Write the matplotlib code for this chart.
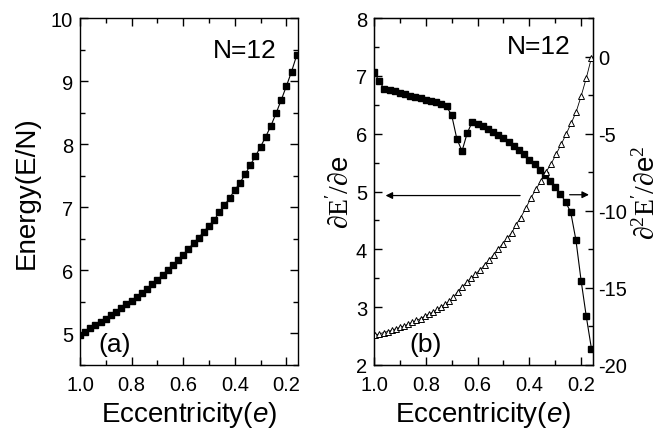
import matplotlib
matplotlib.use('Agg')
import matplotlib.pyplot as plt
from matplotlib.ticker import MultipleLocator

plt.rcParams['font.family'] = ['Liberation Sans', 'DejaVu Sans']
plt.rcParams['mathtext.fontset'] = 'custom'
plt.rcParams['mathtext.rm'] = 'Liberation Serif'
plt.rcParams['mathtext.it'] = 'Liberation Sans:italic'
plt.rcParams['mathtext.sf'] = 'Liberation Sans'
plt.rcParams['axes.unicode_minus'] = False

# eccentricity grid for energy and first derivative
ecc = [1.00, 0.98, 0.96, 0.94, 0.92, 0.90, 0.88, 0.86, 0.84, 0.82, 0.80,
       0.78, 0.76, 0.74, 0.72, 0.70, 0.68, 0.66, 0.64, 0.62, 0.60, 0.58,
       0.56, 0.54, 0.52, 0.50, 0.48, 0.46, 0.44, 0.42, 0.40, 0.38, 0.36,
       0.34, 0.32, 0.30, 0.28, 0.26, 0.24, 0.22, 0.20, 0.18, 0.16]

energy = [4.97, 5.02, 5.08, 5.13, 5.18, 5.23, 5.29, 5.34, 5.40, 5.46, 5.52,
          5.58, 5.64, 5.71, 5.78, 5.85, 5.93, 6.01, 6.09, 6.17, 6.25, 6.34,
          6.43, 6.52, 6.61, 6.71, 6.80, 6.92, 7.03, 7.15, 7.27, 7.39, 7.52,
          7.67, 7.81, 7.96, 8.12, 8.29, 8.49, 8.70, 8.92, 9.15, 9.41]

dE = [7.06, 6.91, 6.77, 6.75, 6.73, 6.70, 6.685, 6.66, 6.64, 6.62, 6.59,
      6.565, 6.54, 6.51, 6.47, 6.32, 5.91, 5.70, 6.01, 6.21, 6.17, 6.13,
      6.08, 6.03, 5.98, 5.92, 5.85, 5.78, 5.71, 5.64, 5.55, 5.47, 5.38,
      5.29, 5.18, 5.07, 4.96, 4.82, 4.64, 4.16, 3.46, 2.84, 2.28]

# second derivative (open triangles)
ecc2 = [0.995, 0.979, 0.963, 0.947, 0.931, 0.915, 0.899, 0.883, 0.868, 0.852,
        0.836, 0.820, 0.804, 0.788, 0.772, 0.756, 0.740, 0.725, 0.709, 0.693,
        0.677, 0.660, 0.642, 0.625, 0.608, 0.590, 0.573, 0.555, 0.538, 0.521,
        0.503, 0.486, 0.468, 0.451, 0.434, 0.414, 0.394, 0.375, 0.355, 0.336,
        0.316, 0.297, 0.277, 0.258, 0.238, 0.219, 0.200, 0.180, 0.160]

d2E = [-18.06, -17.98, -17.90, -17.83, -17.75, -17.65, -17.56, -17.46, -17.35,
       -17.23, -17.11, -16.99, -16.84, -16.70, -16.56, -16.40, -16.23, -16.05,
       -15.87, -15.60, -15.25, -14.93, -14.64, -14.36, -14.10, -13.83, -13.51,
       -13.19, -12.85, -12.50, -12.14, -11.79, -11.43, -10.90, -10.45, -9.85,
       -9.17, -8.62, -8.06, -7.49, -6.96, -6.34, -5.69, -5.03, -4.31, -3.58,
       -2.57, -1.40, -0.07]

xt = [1.0, 0.8, 0.6, 0.4, 0.2]
xtl = ['1.0', '0.8', '0.6', '0.4', '0.2']

fig = plt.figure(figsize=(6.6, 4.39), dpi=100)
ax1 = fig.add_axes([0.1212, 0.1663, 0.3303, 0.7904])
ax2 = fig.add_axes([0.5667, 0.1663, 0.3318, 0.7904])
ax3 = ax2.twinx()

def style(ax, right=True):
    ax.tick_params(which='both', direction='in', top=True, right=right,
                   labelsize=14.5, width=1.0)
    ax.tick_params(which='major', length=6, pad=5)
    ax.tick_params(which='minor', length=3.5)
    ax.tick_params(axis='x', pad=7)
    for s in ax.spines.values():
        s.set_linewidth(1.0)

# (a) energy
ax1.plot(ecc, energy, '-', color='black', lw=0.8, marker='s', ms=3.8)
ax1.set_xlim(1.0, 0.155)
ax1.set_ylim(4.5, 10)
ax1.set_xticks(xt)
ax1.set_xticklabels(xtl)
ax1.xaxis.set_minor_locator(MultipleLocator(0.1))
ax1.yaxis.set_major_locator(MultipleLocator(1))
ax1.yaxis.set_minor_locator(MultipleLocator(0.5))
style(ax1)
ax1.set_xlabel('Eccentricity($\\mathit{e}$)', fontsize=20, labelpad=4)
ax1.set_ylabel('Energy(E/N)', fontsize=20, labelpad=8)
ax1.text(0.61, 0.908, 'N=12', transform=ax1.transAxes, fontsize=19,
         ha='left', va='center')
ax1.text(0.083, 0.06, '(a)', transform=ax1.transAxes, fontsize=19,
         ha='left', va='center')

# (b) first and second derivatives
ax2.plot(ecc, dE, '-', color='black', lw=0.8, marker='s', ms=3.8)
ax3.plot(ecc2, d2E, '-', color='black', lw=0.6, marker='^', ms=4,
         mfc='white', mec='black', mew=0.7)
ax2.set_xlim(1.0, 0.154)
ax2.set_ylim(2, 8)
ax3.set_ylim(-20, 2.5)
ax2.set_xticks(xt)
ax2.set_xticklabels(xtl)
ax2.xaxis.set_minor_locator(MultipleLocator(0.1))
ax2.yaxis.set_major_locator(MultipleLocator(1))
ax2.yaxis.set_minor_locator(MultipleLocator(0.5))
ax3.yaxis.set_major_locator(MultipleLocator(5))
ax3.yaxis.set_minor_locator(MultipleLocator(2.5))
style(ax2, right=False)
ax3.tick_params(which='both', direction='in', labelsize=14.5, width=1.0)
ax3.tick_params(which='major', length=6, pad=4)
ax3.tick_params(which='minor', length=3.5)
ax2.set_xlabel('Eccentricity($\\mathit{e}$)', fontsize=20, labelpad=4)
ax2.set_ylabel("$\\partial\\mathrm{E}'/\\partial$e", fontsize=20, labelpad=1)
ax3.set_ylabel("$\\partial^2\\mathrm{E}'/\\partial$e$^2$", fontsize=20,
               labelpad=4)
ax2.text(0.606, 0.92, 'N=12', transform=ax2.transAxes, fontsize=19,
         ha='left', va='center')
ax2.text(0.16, 0.06, '(b)', transform=ax2.transAxes, fontsize=19,
         ha='left', va='center')

# arrows indicating which axis each curve belongs to
ax2.annotate('', xy=(0.966, 4.93), xytext=(0.425, 4.93),
             arrowprops=dict(arrowstyle='-|>', color='black', lw=0.9,
                             mutation_scale=10))
ax3.annotate('', xy=(0.159, -8.96), xytext=(0.255, -8.96),
             arrowprops=dict(arrowstyle='-|>', color='black', lw=0.9,
                             mutation_scale=10))

plt.savefig('out.png', dpi=100)
